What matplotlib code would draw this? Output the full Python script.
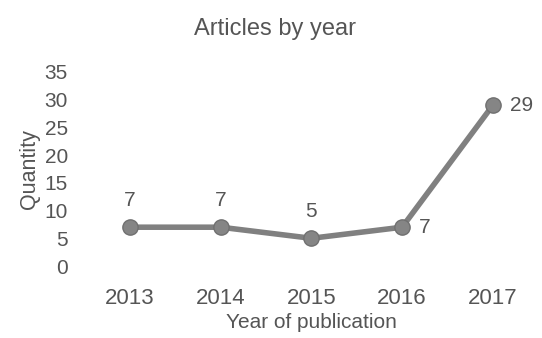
import matplotlib

matplotlib.use("Agg")
import matplotlib.pyplot as plt

years = ["2013", "2014", "2015", "2016", "2017"]
counts = [7, 7, 5, 7, 29]
# where each value label sits relative to its point
label_side = ["above", "above", "above", "right", "right"]
y_ticks = [0, 5, 10, 15, 20, 25, 30, 35]

TEXT = "#555555"
LINE = "#808080"

plt.rcParams["font.family"] = ["Liberation Sans", "DejaVu Sans"]

fig = plt.figure(figsize=(5.42, 3.38), dpi=100)
ax = fig.add_axes([0.156, 0.213, 0.837, 0.574])

xs = list(range(len(years)))
ax.plot(xs, counts, color=LINE, linewidth=4, marker="o", markersize=11,
        markerfacecolor="#858585", markeredgecolor="#707070", markeredgewidth=1, clip_on=False)

for x, y, side in zip(xs, counts, label_side):
    if side == "above":
        ax.annotate(str(y), (x, y), xytext=(0, 19), textcoords="offset points",
                    ha="center", va="center", fontsize=15, color=TEXT)
    else:
        ax.annotate(str(y), (x, y), xytext=(12, 0), textcoords="offset points",
                    ha="left", va="center", fontsize=15, color=TEXT)

ax.set_xlim(-0.5, 4.5)
ax.set_ylim(0, 35)
ax.set_xticks(xs)
ax.set_xticklabels(years)
ax.set_yticks(y_ticks)
ax.tick_params(axis="both", length=0, labelcolor=TEXT)
ax.tick_params(axis="x", labelsize=16, pad=16)
ax.tick_params(axis="y", labelsize=15, pad=12)
for s in ax.spines.values():
    s.set_visible(False)

ax.set_xlabel("Year of publication", fontsize=15, color=TEXT, labelpad=3)
ax.set_ylabel("Quantity", fontsize=15.5, color=TEXT, labelpad=3)
fig.text(0.508, 0.915, "Articles by year", ha="center", va="center", fontsize=17, color=TEXT)

fig.savefig("out.png", dpi=100)
